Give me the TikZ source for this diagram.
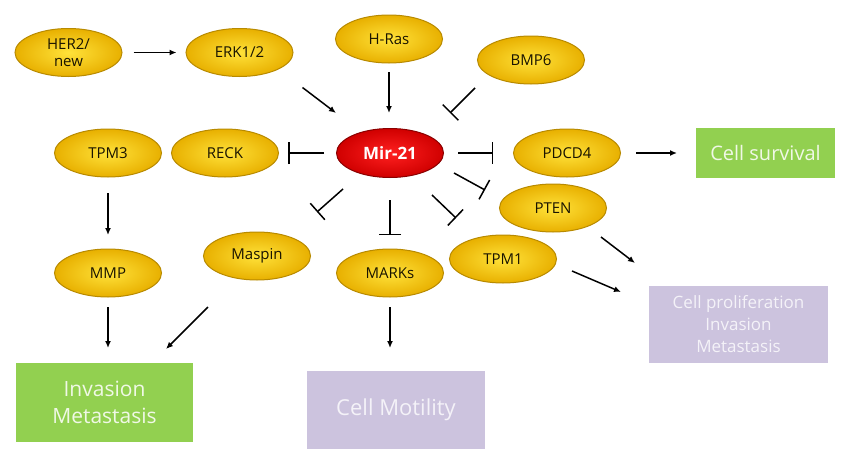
\documentclass[tikz,border=0pt]{standalone}
\usepackage{fontspec}
\setmainfont{Open Sans}
\usetikzlibrary{shapes.geometric,arrows.meta}
\definecolor{goldin}{HTML}{FFE23A}
\definecolor{goldout}{HTML}{E8B000}
\definecolor{goldedge}{HTML}{B88A00}
\definecolor{redin}{HTML}{FF2020}
\definecolor{redout}{HTML}{D00000}
\definecolor{rededge}{HTML}{8A0000}
\definecolor{boxgreen}{HTML}{92D050}
\definecolor{boxpurple}{HTML}{CCC3DE}
\definecolor{txtgreen}{HTML}{F0F8E6}
\definecolor{txtpurple}{HTML}{F4F2F8}
\definecolor{gtxt}{HTML}{1A1400}
\begin{document}
\begin{tikzpicture}[x=1pt,y=-1pt,
  gene/.style={ellipse,minimum width=107pt,minimum height=48pt,inner sep=0pt,
    inner color=goldin,outer color=goldout,draw=goldedge,line width=1pt,
    font=\fontsize{15}{17}\selectfont,text=gtxt,align=center},
  mirnode/.style={ellipse,minimum width=107pt,minimum height=49pt,inner sep=0pt,
    inner color=redin,outer color=redout,draw=rededge,line width=1pt,
    font=\fontsize{17}{19}\selectfont\bfseries,text=white},
  gbox/.style={rectangle,fill=boxgreen,text=txtgreen,align=center,inner sep=0pt},
  pbox/.style={rectangle,fill=boxpurple,text=txtpurple,align=center,inner sep=0pt},
  act/.style={line width=1.5pt,-{Latex[length=7pt,width=6pt]}},
  inh/.style={line width=1.5pt,-{Bar[width=22pt,line width=1.5pt]}}]
\useasboundingbox (0,0) rectangle (843,458);

% gene nodes
\node[gene] (her) at (68.5,52.5) {HER2/\\new};
\node[gene] (erk) at (239.5,52.5) {ERK1/2};
\node[gene] (hras) at (389,39) {H-Ras};
\node[gene] (bmp) at (531,60) {BMP6};
\node[mirnode] (mir) at (390,153) {Mir-21};
\node[gene] (tpm3) at (108,153) {TPM3};
\node[gene] (reck) at (225,153) {RECK};
\node[gene] (pdcd) at (567,153) {PDCD4};
\node[gene] (pten) at (553,208) {PTEN};
\node[gene] (tpm1) at (503,259) {TPM1};
\node[gene] (mmp) at (108,273) {MMP};
\node[gene] (masp) at (257,256) {Maspin};
\node[gene] (marks) at (390,273) {MARKs};

% outcome boxes
\node[gbox,minimum width=139pt,minimum height=50pt,font=\fontsize{20}{24}\selectfont] (surv) at (765.5,153) {Cell survival};
\node[gbox,minimum width=177pt,minimum height=79pt,font=\fontsize{21}{27}\selectfont] (inv) at (104.5,402.5) {Invasion\\Metastasis};
\node[pbox,minimum width=178pt,minimum height=78pt,font=\fontsize{22}{26}\selectfont] (mot) at (396,410) {Cell Motility};
\node[pbox,minimum width=179pt,minimum height=77pt,font=\fontsize{17}{22}\selectfont] (prol) at (738.5,324.5) {Cell proliferation\\Invasion\\Metastasis};

% activating connectors
\draw[act] ([shift={(65,0)}]her.center) -- ([shift={(-63,0)}]erk.center);
\draw[act] ([shift={(63,35)}]erk.center) -- ([shift={(-54,-40)}]mir.center);
\draw[act] ([shift={(0,33)}]hras.center) -- ([shift={(-1,-40)}]mir.center);
\draw[act] ([shift={(0,40)}]tpm3.center) -- ([shift={(0,-38)}]mmp.center);
\draw[act] ([shift={(0,34)}]mmp.center) -- ([shift={(3.5,-54.5)}]inv.center);
\draw[act] ([shift={(-49,51)}]masp.center) -- ([shift={(61.5,-53.5)}]inv.center);
\draw[act] ([shift={(0,34)}]marks.center) -- ([shift={(-6,-62)}]mot.center);
\draw[act] ([shift={(69,0)}]pdcd.center) -- ([shift={(-88.5,0)}]surv.center);
\draw[act] ([shift={(48,29)}]pten.center) -- ([shift={(-103.5,-61.5)}]prol.center);
\draw[act] ([shift={(69,12)}]tpm1.center) -- ([shift={(-117.5,-32.5)}]prol.center);

% inhibiting connectors
\draw[inh] ([shift={(-56,28)}]bmp.center) -- ([shift={(60,-40)}]mir.center);
\draw[inh] ([shift={(-66,0)}]mir.center) -- ([shift={(63,0)}]reck.center);
\draw[inh] ([shift={(68,0)}]mir.center) -- ([shift={(-74,0)}]pdcd.center);
\draw[inh] ([shift={(64,20)}]mir.center) -- ([shift={(-68,-18)}]pten.center);
\draw[inh] ([shift={(42,42)}]mir.center) -- ([shift={(-47,-41)}]tpm1.center);
\draw[inh] ([shift={(0,47)}]mir.center) -- ([shift={(0,-38)}]marks.center);
\draw[inh] ([shift={(-47,36)}]mir.center) -- ([shift={(60,-44)}]masp.center);
\end{tikzpicture}
\end{document}
